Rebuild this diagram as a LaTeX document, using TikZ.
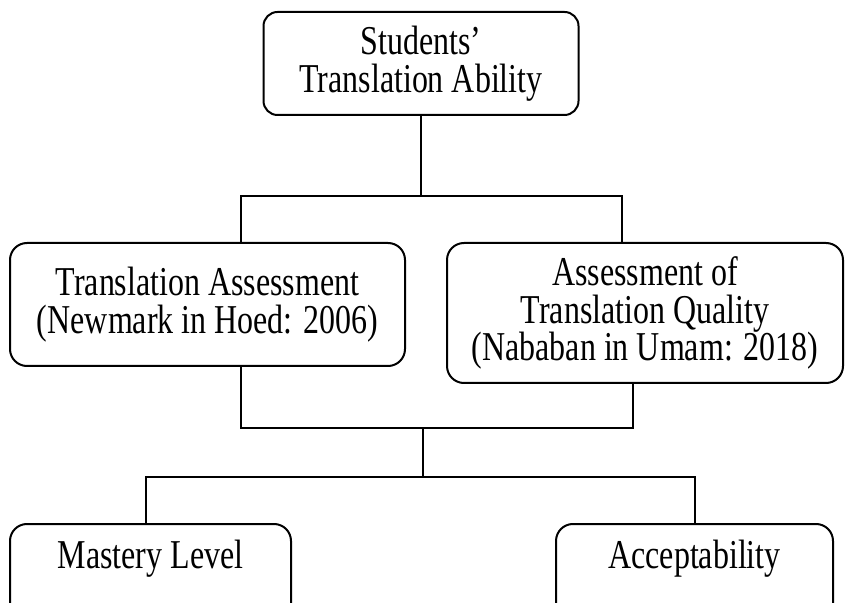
\documentclass[tikz,border=0pt]{standalone}
\usepackage{fontspec}
\setmainfont[FakeStretch=0.78]{Liberation Serif}
\newcommand{\boxfont}{\fontsize{20.5pt}{18.75pt}\selectfont\lineskiplimit=-20pt\relax}
\begin{document}
\begin{tikzpicture}[x=0.5pt,y=-0.5pt,
  box/.style={draw, line width=1pt, rounded corners=8.5pt, inner sep=0pt, align=center,
    font=\boxfont},
  lowbox/.style={draw, line width=1pt, rounded corners=8.5pt, inner xsep=0pt, inner ysep=7pt,
    text height=15pt, text depth=40pt, anchor=north, font=\boxfont},
  conn/.style={line width=1pt}]
\useasboundingbox (0,0) rectangle (845,603);
\node[box, rounded corners=7pt, minimum width=157.5pt, minimum height=51.5pt] (top) at (421,63.5)
  {Students’\\Translation Ability};
\node[box, minimum width=197.5pt, minimum height=61.5pt] (ml) at (207.5,304.5)
  {Translation Assessment\\(Newmark in Hoed: 2006)};
\node[box, minimum width=198pt, minimum height=70pt] (mr) at (645,313)
  {Assessment of\\Translation Quality\\(Nababan in Umam: 2018)};
\node[lowbox, minimum width=140.5pt] (bl) at (150.5,523) {Mastery Level};
\node[lowbox, minimum width=138.5pt] (br) at (694.5,523) {Acceptability};
\coordinate (jL) at (241,196);
\coordinate (jR) at (622,196);
\coordinate (kL) at (241,428);
\coordinate (kR) at (633,428);
\coordinate (kC) at (423,428);
\coordinate (mC) at (423,477);
\coordinate (mL) at (145.5,477);
\coordinate (mR) at (695,477);
\draw[conn] (top.south) -- (top.south |- jL);
\draw[conn] (jL |- ml.north) -- (jL) -- (jR) -- (jR |- mr.north);
\draw[conn] (kL |- ml.south) -- (kL) -- (kR) -- (kR |- mr.south);
\draw[conn] (kC) -- (mC);
\draw[conn] (mL |- bl.north) -- (mL) -- (mR) -- (mR |- br.north);
\end{tikzpicture}
\end{document}
